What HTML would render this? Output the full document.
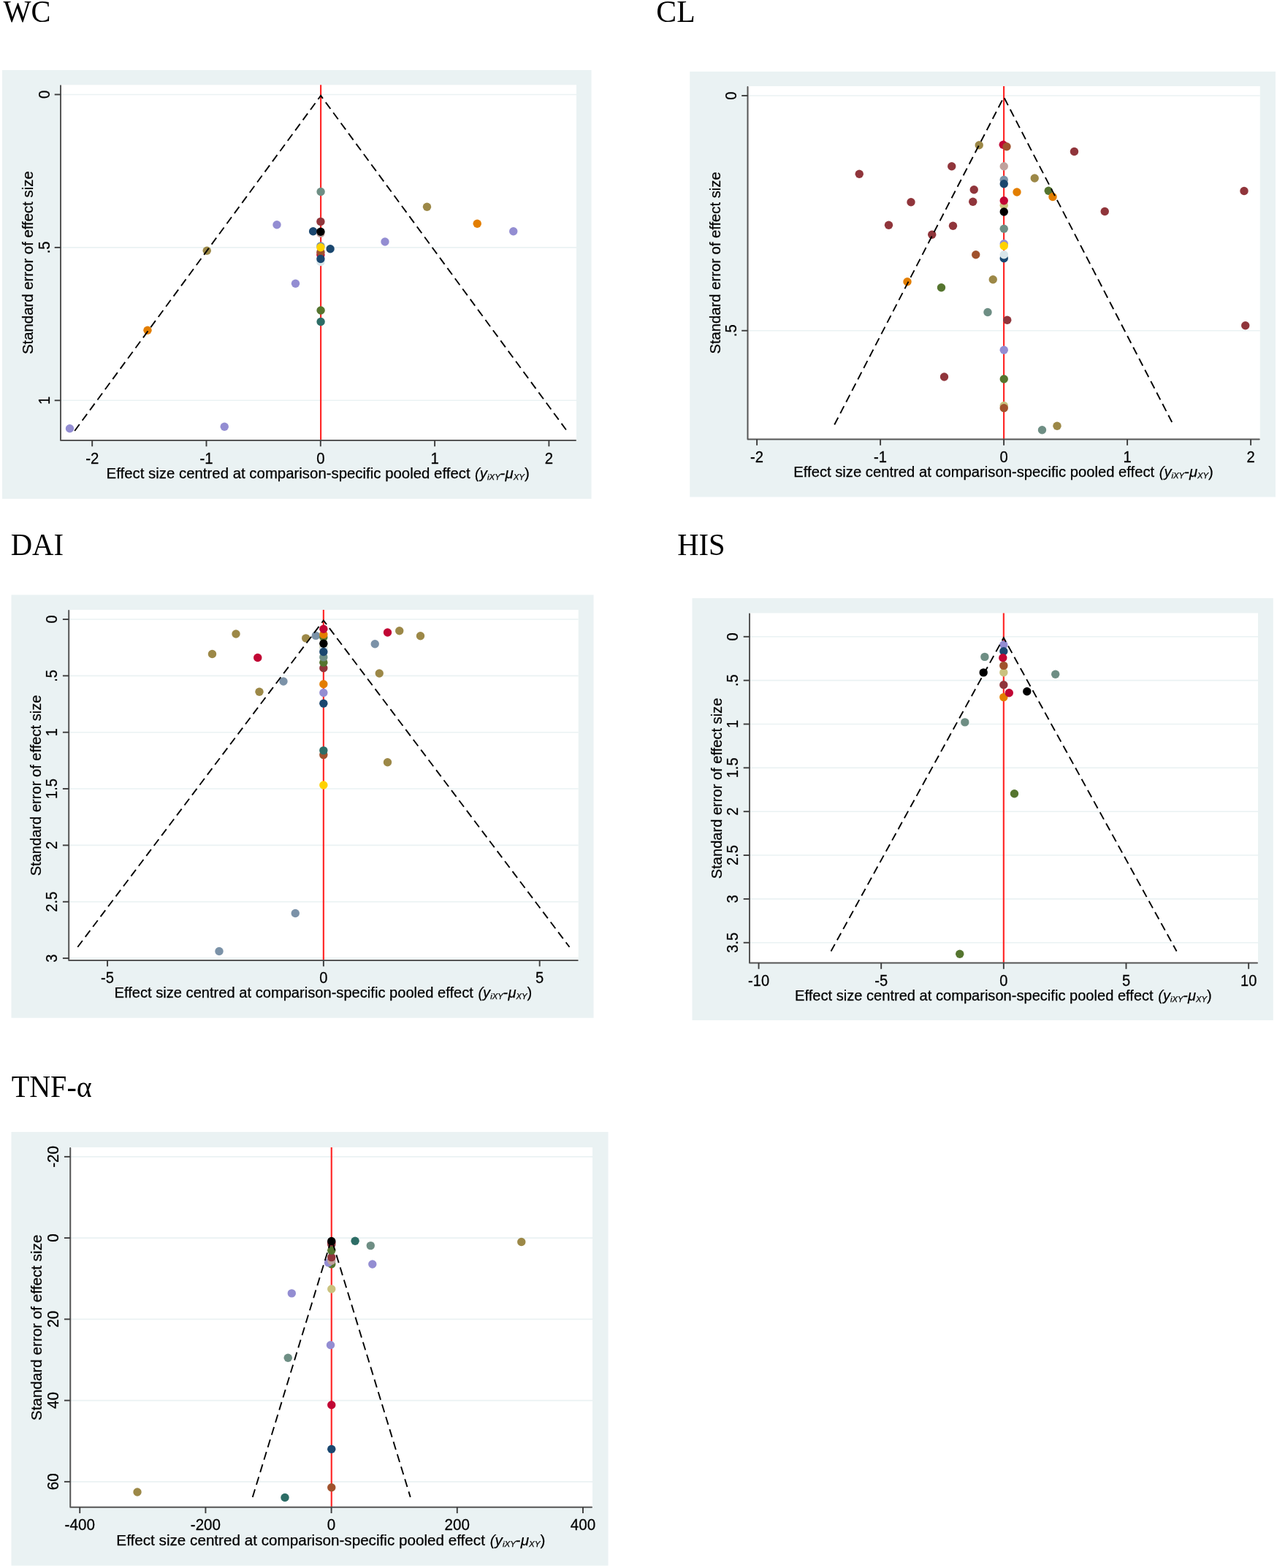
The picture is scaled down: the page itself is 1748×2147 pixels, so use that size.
<!DOCTYPE html>
<html><head><meta charset="utf-8"><title>Funnel plots</title>
<style>html,body{margin:0;padding:0;background:#fff;} svg{display:block;} .s{stroke:#000;stroke-width:0.25px;paint-order:stroke;}</style>
</head><body>
<svg width="1748" height="2147" viewBox="0 0 1748 2147">
<rect width="1748" height="2147" fill="#FFFFFF"/>
<rect x="3" y="96" width="806.50" height="587.00" fill="#EAF2F3"/>
<rect x="83" y="116.25" width="706.00" height="486.75" fill="#FFFFFF"/>
<line x1="84" y1="129.45" x2="789" y2="129.45" stroke="#EAF2F3" stroke-width="1.6"/>
<line x1="84" y1="338.88" x2="789" y2="338.88" stroke="#EAF2F3" stroke-width="1.6"/>
<line x1="84" y1="548.30" x2="789" y2="548.30" stroke="#EAF2F3" stroke-width="1.6"/>
<line x1="439.1" y1="116.25" x2="439.1" y2="603" stroke="#FF2A2A" stroke-width="2.2"/>
<circle cx="439.1" cy="262.5" r="5.7" fill="#6E8E84"/>
<circle cx="379" cy="307.75" r="5.7" fill="#938DD2"/>
<circle cx="438.9" cy="303.4" r="5.7" fill="#90353B"/>
<circle cx="428.6" cy="316.7" r="5.7" fill="#1A476F"/>
<circle cx="438.9" cy="319.4" r="5.7" fill="#BFA19C"/>
<circle cx="438.9" cy="317.2" r="5.7" fill="#000000"/>
<circle cx="283.25" cy="343.25" r="5.7" fill="#9C8847"/>
<circle cx="438.9" cy="358.5" r="5.7" fill="#D9E6EB"/>
<circle cx="438.9" cy="348.75" r="5.7" fill="#C10534"/>
<circle cx="438.9" cy="345.3" r="5.7" fill="#A0522D"/>
<circle cx="438.9" cy="354.5" r="5.7" fill="#1A476F"/>
<circle cx="438.9" cy="336.9" r="5.7" fill="#7B92A8"/>
<circle cx="438.9" cy="338.8" r="5.7" fill="#FFD200"/>
<circle cx="452.1" cy="340.7" r="5.7" fill="#1A476F"/>
<circle cx="584.5" cy="283.25" r="5.7" fill="#9C8847"/>
<circle cx="653.25" cy="306.25" r="5.7" fill="#E37E00"/>
<circle cx="702.75" cy="316.75" r="5.7" fill="#938DD2"/>
<circle cx="527" cy="331" r="5.7" fill="#938DD2"/>
<circle cx="404.5" cy="388.25" r="5.7" fill="#938DD2"/>
<circle cx="439.1" cy="425" r="5.7" fill="#55752F"/>
<circle cx="439.1" cy="440.5" r="5.7" fill="#2D6D66"/>
<circle cx="202" cy="452.25" r="5.7" fill="#E37E00"/>
<circle cx="95.5" cy="586.75" r="5.7" fill="#938DD2"/>
<circle cx="307.25" cy="584.25" r="5.7" fill="#938DD2"/>
<polyline points="102.2,590 439.1,130.95 774.9,588.5" fill="none" stroke="#000" stroke-width="1.9" stroke-dasharray="11.122 6.476" stroke-linejoin="miter" stroke-miterlimit="10"/>
<polyline points="83,117.25 83,603 788,603" fill="none" stroke="#555555" stroke-width="2" stroke-linejoin="round" stroke-linecap="round"/>
<line x1="74.70" y1="129.45" x2="83" y2="129.45" stroke="#3C3C3C" stroke-width="1.9"/>
<line x1="74.70" y1="338.88" x2="83" y2="338.88" stroke="#3C3C3C" stroke-width="1.9"/>
<line x1="74.70" y1="548.30" x2="83" y2="548.30" stroke="#3C3C3C" stroke-width="1.9"/>
<line x1="126.20" y1="603" x2="126.20" y2="611.30" stroke="#3C3C3C" stroke-width="1.9"/>
<line x1="282.50" y1="603" x2="282.50" y2="611.30" stroke="#3C3C3C" stroke-width="1.9"/>
<line x1="438.80" y1="603" x2="438.80" y2="611.30" stroke="#3C3C3C" stroke-width="1.9"/>
<line x1="595.10" y1="603" x2="595.10" y2="611.30" stroke="#3C3C3C" stroke-width="1.9"/>
<line x1="751.40" y1="603" x2="751.40" y2="611.30" stroke="#3C3C3C" stroke-width="1.9"/>
<text transform="translate(67.7,129.45) rotate(-90) scale(1,1.06)" text-anchor="middle" class="s" font-family="'Liberation Sans', Arial, sans-serif" font-size="20.38">0</text>
<text transform="translate(67.7,338.88) rotate(-90) scale(1,1.06)" text-anchor="middle" class="s" font-family="'Liberation Sans', Arial, sans-serif" font-size="20.38">.5</text>
<text transform="translate(67.7,548.30) rotate(-90) scale(1,1.06)" text-anchor="middle" class="s" font-family="'Liberation Sans', Arial, sans-serif" font-size="20.38">1</text>
<text transform="translate(126.20,634.9) scale(1,1.06)" text-anchor="middle" class="s" font-family="'Liberation Sans', Arial, sans-serif" font-size="20.38">-2</text>
<text transform="translate(282.50,634.9) scale(1,1.06)" text-anchor="middle" class="s" font-family="'Liberation Sans', Arial, sans-serif" font-size="20.38">-1</text>
<text transform="translate(438.80,634.9) scale(1,1.06)" text-anchor="middle" class="s" font-family="'Liberation Sans', Arial, sans-serif" font-size="20.38">0</text>
<text transform="translate(595.10,634.9) scale(1,1.06)" text-anchor="middle" class="s" font-family="'Liberation Sans', Arial, sans-serif" font-size="20.38">1</text>
<text transform="translate(751.40,634.9) scale(1,1.06)" text-anchor="middle" class="s" font-family="'Liberation Sans', Arial, sans-serif" font-size="20.38">2</text>
<text transform="translate(44.55,359.62) rotate(-90)" text-anchor="middle" class="s" font-family="'Liberation Sans', Arial, sans-serif" font-size="20.38" textLength="250.88" lengthAdjust="spacing">Standard error of effect size</text>
<text x="145.58" y="654.50" class="s" font-family="'Liberation Sans', Arial, sans-serif" font-size="20.38" textLength="498.02" lengthAdjust="spacing">Effect size centred at comparison-specific pooled effect</text>
<text x="650.09" y="654.50" class="s" font-family="'Liberation Sans', Arial, sans-serif" font-size="20.38"><tspan font-style="italic">(y</tspan><tspan font-style="italic" font-size="11.41" dy="2">iXY</tspan><tspan dy="-2">-</tspan><tspan font-style="italic">μ</tspan><tspan font-style="italic" font-size="11.41" dy="2">XY</tspan><tspan dy="-2">)</tspan></text>
<text transform="translate(4.46,30.2) scale(0.9877,1.045)" font-family="'Liberation Serif', 'Times New Roman', serif" font-size="40.8" stroke="#000" stroke-width="0">WC</text>
<rect x="944.25" y="98" width="801.75" height="582.50" fill="#EAF2F3"/>
<rect x="1023.5" y="118" width="701.25" height="483.50" fill="#FFFFFF"/>
<line x1="1024.5" y1="131.00" x2="1724.75" y2="131.00" stroke="#EAF2F3" stroke-width="1.6"/>
<line x1="1024.5" y1="452.75" x2="1724.75" y2="452.75" stroke="#EAF2F3" stroke-width="1.6"/>
<line x1="1374.1" y1="118" x2="1374.1" y2="601.5" stroke="#FF2A2A" stroke-width="2.2"/>
<circle cx="1340.25" cy="198.75" r="5.7" fill="#9C8847"/>
<circle cx="1373.25" cy="198.25" r="5.7" fill="#C10534"/>
<circle cx="1378" cy="200.75" r="5.7" fill="#A0522D"/>
<circle cx="1302.75" cy="227.75" r="5.7" fill="#90353B"/>
<circle cx="1374.25" cy="227.75" r="5.7" fill="#BFA19C"/>
<circle cx="1176.25" cy="238.25" r="5.7" fill="#90353B"/>
<circle cx="1416.25" cy="244" r="5.7" fill="#9C8847"/>
<circle cx="1374.25" cy="246.25" r="5.7" fill="#7B92A8"/>
<circle cx="1374.25" cy="251.75" r="5.7" fill="#1A476F"/>
<circle cx="1333.25" cy="259.75" r="5.7" fill="#90353B"/>
<circle cx="1392" cy="263" r="5.7" fill="#E37E00"/>
<circle cx="1435.25" cy="261.25" r="5.7" fill="#55752F"/>
<circle cx="1441" cy="269.5" r="5.7" fill="#E37E00"/>
<circle cx="1374.25" cy="281.25" r="5.7" fill="#CAC27E"/>
<circle cx="1374.25" cy="274.75" r="5.7" fill="#C10534"/>
<circle cx="1247" cy="276.75" r="5.7" fill="#90353B"/>
<circle cx="1331.75" cy="276.25" r="5.7" fill="#90353B"/>
<circle cx="1374.25" cy="290" r="5.7" fill="#000000"/>
<circle cx="1216.5" cy="308.25" r="5.7" fill="#90353B"/>
<circle cx="1304.5" cy="309.25" r="5.7" fill="#90353B"/>
<circle cx="1374.25" cy="313.25" r="5.7" fill="#6E8E84"/>
<circle cx="1275.75" cy="321.25" r="5.7" fill="#90353B"/>
<circle cx="1374.25" cy="333.75" r="5.7" fill="#938DD2"/>
<circle cx="1374.25" cy="336.75" r="5.7" fill="#FFD200"/>
<circle cx="1335.75" cy="348.75" r="5.7" fill="#A0522D"/>
<circle cx="1374.25" cy="353.75" r="5.7" fill="#1A476F"/>
<circle cx="1374.25" cy="348.75" r="5.7" fill="#D9E6EB"/>
<circle cx="1470.5" cy="207.5" r="5.7" fill="#90353B"/>
<circle cx="1703" cy="261.5" r="5.7" fill="#90353B"/>
<circle cx="1512.25" cy="289.5" r="5.7" fill="#90353B"/>
<circle cx="1242" cy="385.75" r="5.7" fill="#E37E00"/>
<circle cx="1288.5" cy="393.75" r="5.7" fill="#55752F"/>
<circle cx="1359.25" cy="382.75" r="5.7" fill="#9C8847"/>
<circle cx="1352" cy="427.5" r="5.7" fill="#6E8E84"/>
<circle cx="1378.75" cy="438.25" r="5.7" fill="#90353B"/>
<circle cx="1374.25" cy="479.25" r="5.7" fill="#938DD2"/>
<circle cx="1292.5" cy="516" r="5.7" fill="#90353B"/>
<circle cx="1374.25" cy="519" r="5.7" fill="#55752F"/>
<circle cx="1374.25" cy="555.5" r="5.7" fill="#CAC27E"/>
<circle cx="1374.25" cy="558.75" r="5.7" fill="#A0522D"/>
<circle cx="1426.5" cy="588.75" r="5.7" fill="#6E8E84"/>
<circle cx="1447" cy="583.25" r="5.7" fill="#9C8847"/>
<circle cx="1704.75" cy="445.75" r="5.7" fill="#90353B"/>
<polyline points="1142.2,581.5 1374.1,133.0 1604.2,578.0" fill="none" stroke="#000" stroke-width="1.9" stroke-dasharray="11.035 6.425" stroke-linejoin="miter" stroke-miterlimit="10"/>
<polyline points="1023.5,119 1023.5,601.5 1723.75,601.5" fill="none" stroke="#555555" stroke-width="2" stroke-linejoin="round" stroke-linecap="round"/>
<line x1="1015.20" y1="131.00" x2="1023.5" y2="131.00" stroke="#3C3C3C" stroke-width="1.9"/>
<line x1="1015.20" y1="452.75" x2="1023.5" y2="452.75" stroke="#3C3C3C" stroke-width="1.9"/>
<line x1="1036.10" y1="601.5" x2="1036.10" y2="609.80" stroke="#3C3C3C" stroke-width="1.9"/>
<line x1="1205.10" y1="601.5" x2="1205.10" y2="609.80" stroke="#3C3C3C" stroke-width="1.9"/>
<line x1="1374.10" y1="601.5" x2="1374.10" y2="609.80" stroke="#3C3C3C" stroke-width="1.9"/>
<line x1="1543.10" y1="601.5" x2="1543.10" y2="609.80" stroke="#3C3C3C" stroke-width="1.9"/>
<line x1="1712.10" y1="601.5" x2="1712.10" y2="609.80" stroke="#3C3C3C" stroke-width="1.9"/>
<text transform="translate(1008.2,131.00) rotate(-90) scale(1,1.06)" text-anchor="middle" class="s" font-family="'Liberation Sans', Arial, sans-serif" font-size="20.22">0</text>
<text transform="translate(1008.2,452.75) rotate(-90) scale(1,1.06)" text-anchor="middle" class="s" font-family="'Liberation Sans', Arial, sans-serif" font-size="20.22">.5</text>
<text transform="translate(1036.10,632.7) scale(1,1.06)" text-anchor="middle" class="s" font-family="'Liberation Sans', Arial, sans-serif" font-size="20.22">-2</text>
<text transform="translate(1205.10,632.7) scale(1,1.06)" text-anchor="middle" class="s" font-family="'Liberation Sans', Arial, sans-serif" font-size="20.22">-1</text>
<text transform="translate(1374.10,632.7) scale(1,1.06)" text-anchor="middle" class="s" font-family="'Liberation Sans', Arial, sans-serif" font-size="20.22">0</text>
<text transform="translate(1543.10,632.7) scale(1,1.06)" text-anchor="middle" class="s" font-family="'Liberation Sans', Arial, sans-serif" font-size="20.22">1</text>
<text transform="translate(1712.10,632.7) scale(1,1.06)" text-anchor="middle" class="s" font-family="'Liberation Sans', Arial, sans-serif" font-size="20.22">2</text>
<text transform="translate(985.50,359.95) rotate(-90)" text-anchor="middle" class="s" font-family="'Liberation Sans', Arial, sans-serif" font-size="20.22" textLength="249.22" lengthAdjust="spacing">Standard error of effect size</text>
<text x="1086.29" y="652.75" class="s" font-family="'Liberation Sans', Arial, sans-serif" font-size="20.22" textLength="493.91" lengthAdjust="spacing">Effect size centred at comparison-specific pooled effect</text>
<text x="1586.70" y="652.75" class="s" font-family="'Liberation Sans', Arial, sans-serif" font-size="20.22"><tspan font-style="italic">(y</tspan><tspan font-style="italic" font-size="11.32" dy="2">iXY</tspan><tspan dy="-2">-</tspan><tspan font-style="italic">μ</tspan><tspan font-style="italic" font-size="11.32" dy="2">XY</tspan><tspan dy="-2">)</tspan></text>
<text transform="translate(898.34,30.4) scale(1.0227,1.045)" font-family="'Liberation Serif', 'Times New Roman', serif" font-size="40.8" stroke="#000" stroke-width="0">CL</text>
<rect x="15.5" y="814.5" width="797.00" height="579.25" fill="#EAF2F3"/>
<rect x="94.2" y="835" width="697.55" height="480.00" fill="#FFFFFF"/>
<line x1="95.2" y1="848.00" x2="791.75" y2="848.00" stroke="#EAF2F3" stroke-width="1.6"/>
<line x1="95.2" y1="925.35" x2="791.75" y2="925.35" stroke="#EAF2F3" stroke-width="1.6"/>
<line x1="95.2" y1="1002.70" x2="791.75" y2="1002.70" stroke="#EAF2F3" stroke-width="1.6"/>
<line x1="95.2" y1="1080.05" x2="791.75" y2="1080.05" stroke="#EAF2F3" stroke-width="1.6"/>
<line x1="95.2" y1="1157.40" x2="791.75" y2="1157.40" stroke="#EAF2F3" stroke-width="1.6"/>
<line x1="95.2" y1="1234.75" x2="791.75" y2="1234.75" stroke="#EAF2F3" stroke-width="1.6"/>
<line x1="95.2" y1="1312.10" x2="791.75" y2="1312.10" stroke="#EAF2F3" stroke-width="1.6"/>
<line x1="442.86" y1="835" x2="442.86" y2="1315" stroke="#FF2A2A" stroke-width="2.2"/>
<circle cx="323" cy="868" r="5.7" fill="#9C8847"/>
<circle cx="290.5" cy="895.5" r="5.7" fill="#9C8847"/>
<circle cx="352.75" cy="900.5" r="5.7" fill="#C10534"/>
<circle cx="418.7" cy="873.9" r="5.7" fill="#9C8847"/>
<circle cx="432.3" cy="870.4" r="5.7" fill="#7B92A8"/>
<circle cx="388" cy="933" r="5.7" fill="#7B92A8"/>
<circle cx="355" cy="947.25" r="5.7" fill="#9C8847"/>
<circle cx="442.86" cy="914.7" r="5.7" fill="#90353B"/>
<circle cx="442.86" cy="907.3" r="5.7" fill="#55752F"/>
<circle cx="442.86" cy="899.9" r="5.7" fill="#6E8E84"/>
<circle cx="442.86" cy="886.5" r="5.7" fill="#CAC27E"/>
<circle cx="442.86" cy="888" r="5.7" fill="#D9E6EB"/>
<circle cx="442.86" cy="892.5" r="5.7" fill="#1A476F"/>
<circle cx="442.86" cy="872.5" r="5.7" fill="#55752F"/>
<circle cx="442.86" cy="868.7" r="5.7" fill="#E37E00"/>
<circle cx="442.86" cy="861.2" r="5.7" fill="#C10534"/>
<circle cx="442.86" cy="881.2" r="5.7" fill="#000000"/>
<circle cx="442.86" cy="936.75" r="5.7" fill="#E37E00"/>
<circle cx="442.86" cy="948.5" r="5.7" fill="#938DD2"/>
<circle cx="442.86" cy="963.25" r="5.7" fill="#1A476F"/>
<circle cx="442.86" cy="1033.6" r="5.7" fill="#A0522D"/>
<circle cx="442.86" cy="1027.6" r="5.7" fill="#2D6D66"/>
<circle cx="442.86" cy="1075" r="5.7" fill="#FFD200"/>
<circle cx="513.25" cy="881.75" r="5.7" fill="#7B92A8"/>
<circle cx="530.5" cy="866" r="5.7" fill="#C10534"/>
<circle cx="546.75" cy="863.75" r="5.7" fill="#9C8847"/>
<circle cx="575.5" cy="870.75" r="5.7" fill="#9C8847"/>
<circle cx="519.25" cy="922" r="5.7" fill="#9C8847"/>
<circle cx="530.5" cy="1043.75" r="5.7" fill="#9C8847"/>
<circle cx="300" cy="1302.5" r="5.7" fill="#7B92A8"/>
<circle cx="404.25" cy="1250.5" r="5.7" fill="#7B92A8"/>
<polyline points="106.3,1296.75 442.86,849.5 779.5,1296.75" fill="none" stroke="#000" stroke-width="1.9" stroke-dasharray="10.975 6.390" stroke-linejoin="miter" stroke-miterlimit="10"/>
<polyline points="94.2,836 94.2,1315 790.75,1315" fill="none" stroke="#555555" stroke-width="2" stroke-linejoin="round" stroke-linecap="round"/>
<line x1="85.90" y1="848.00" x2="94.2" y2="848.00" stroke="#3C3C3C" stroke-width="1.9"/>
<line x1="85.90" y1="925.35" x2="94.2" y2="925.35" stroke="#3C3C3C" stroke-width="1.9"/>
<line x1="85.90" y1="1002.70" x2="94.2" y2="1002.70" stroke="#3C3C3C" stroke-width="1.9"/>
<line x1="85.90" y1="1080.05" x2="94.2" y2="1080.05" stroke="#3C3C3C" stroke-width="1.9"/>
<line x1="85.90" y1="1157.40" x2="94.2" y2="1157.40" stroke="#3C3C3C" stroke-width="1.9"/>
<line x1="85.90" y1="1234.75" x2="94.2" y2="1234.75" stroke="#3C3C3C" stroke-width="1.9"/>
<line x1="85.90" y1="1312.10" x2="94.2" y2="1312.10" stroke="#3C3C3C" stroke-width="1.9"/>
<line x1="147.06" y1="1315" x2="147.06" y2="1323.30" stroke="#3C3C3C" stroke-width="1.9"/>
<line x1="442.86" y1="1315" x2="442.86" y2="1323.30" stroke="#3C3C3C" stroke-width="1.9"/>
<line x1="738.66" y1="1315" x2="738.66" y2="1323.30" stroke="#3C3C3C" stroke-width="1.9"/>
<text transform="translate(78.45,848.00) rotate(-90) scale(1,1.06)" text-anchor="middle" class="s" font-family="'Liberation Sans', Arial, sans-serif" font-size="20.11">0</text>
<text transform="translate(78.45,925.35) rotate(-90) scale(1,1.06)" text-anchor="middle" class="s" font-family="'Liberation Sans', Arial, sans-serif" font-size="20.11">.5</text>
<text transform="translate(78.45,1002.70) rotate(-90) scale(1,1.06)" text-anchor="middle" class="s" font-family="'Liberation Sans', Arial, sans-serif" font-size="20.11">1</text>
<text transform="translate(78.45,1080.05) rotate(-90) scale(1,1.06)" text-anchor="middle" class="s" font-family="'Liberation Sans', Arial, sans-serif" font-size="20.11">1.5</text>
<text transform="translate(78.45,1157.40) rotate(-90) scale(1,1.06)" text-anchor="middle" class="s" font-family="'Liberation Sans', Arial, sans-serif" font-size="20.11">2</text>
<text transform="translate(78.45,1234.75) rotate(-90) scale(1,1.06)" text-anchor="middle" class="s" font-family="'Liberation Sans', Arial, sans-serif" font-size="20.11">2.5</text>
<text transform="translate(78.45,1312.10) rotate(-90) scale(1,1.06)" text-anchor="middle" class="s" font-family="'Liberation Sans', Arial, sans-serif" font-size="20.11">3</text>
<text transform="translate(147.06,1345.8) scale(1,1.06)" text-anchor="middle" class="s" font-family="'Liberation Sans', Arial, sans-serif" font-size="20.11">-5</text>
<text transform="translate(442.86,1345.8) scale(1,1.06)" text-anchor="middle" class="s" font-family="'Liberation Sans', Arial, sans-serif" font-size="20.11">0</text>
<text transform="translate(738.66,1345.8) scale(1,1.06)" text-anchor="middle" class="s" font-family="'Liberation Sans', Arial, sans-serif" font-size="20.11">5</text>
<text transform="translate(56.20,1075.40) rotate(-90)" text-anchor="middle" class="s" font-family="'Liberation Sans', Arial, sans-serif" font-size="20.11" textLength="247.91" lengthAdjust="spacing">Standard error of effect size</text>
<text x="156.50" y="1365.80" class="s" font-family="'Liberation Sans', Arial, sans-serif" font-size="20.11" textLength="491.40" lengthAdjust="spacing">Effect size centred at comparison-specific pooled effect</text>
<text x="654.41" y="1365.80" class="s" font-family="'Liberation Sans', Arial, sans-serif" font-size="20.11"><tspan font-style="italic">(y</tspan><tspan font-style="italic" font-size="11.26" dy="2">iXY</tspan><tspan dy="-2">-</tspan><tspan font-style="italic">μ</tspan><tspan font-style="italic" font-size="11.26" dy="2">XY</tspan><tspan dy="-2">)</tspan></text>
<text transform="translate(14.63,760.3) scale(0.9985,1.045)" font-family="'Liberation Serif', 'Times New Roman', serif" font-size="40.8" stroke="#000" stroke-width="0">DAI</text>
<rect x="947.5" y="819.1" width="795.30" height="577.90" fill="#EAF2F3"/>
<rect x="1026" y="839.5" width="696.00" height="479.00" fill="#FFFFFF"/>
<line x1="1027" y1="871.80" x2="1722" y2="871.80" stroke="#EAF2F3" stroke-width="1.6"/>
<line x1="1027" y1="931.65" x2="1722" y2="931.65" stroke="#EAF2F3" stroke-width="1.6"/>
<line x1="1027" y1="991.50" x2="1722" y2="991.50" stroke="#EAF2F3" stroke-width="1.6"/>
<line x1="1027" y1="1051.35" x2="1722" y2="1051.35" stroke="#EAF2F3" stroke-width="1.6"/>
<line x1="1027" y1="1111.20" x2="1722" y2="1111.20" stroke="#EAF2F3" stroke-width="1.6"/>
<line x1="1027" y1="1171.05" x2="1722" y2="1171.05" stroke="#EAF2F3" stroke-width="1.6"/>
<line x1="1027" y1="1230.90" x2="1722" y2="1230.90" stroke="#EAF2F3" stroke-width="1.6"/>
<line x1="1027" y1="1290.75" x2="1722" y2="1290.75" stroke="#EAF2F3" stroke-width="1.6"/>
<line x1="1373.85" y1="839.5" x2="1373.85" y2="1318.5" stroke="#FF2A2A" stroke-width="2.2"/>
<circle cx="1373.85" cy="882.9" r="5.7" fill="#938DD2"/>
<circle cx="1373.85" cy="891.8" r="5.7" fill="#1A476F"/>
<circle cx="1372.8" cy="900.7" r="5.7" fill="#C10534"/>
<circle cx="1373.85" cy="920.8" r="5.7" fill="#CAC27E"/>
<circle cx="1373.85" cy="911.4" r="5.7" fill="#A0522D"/>
<circle cx="1373.85" cy="937.7" r="5.7" fill="#90353B"/>
<circle cx="1373.85" cy="954.6" r="5.7" fill="#E37E00"/>
<circle cx="1381.3" cy="948.8" r="5.7" fill="#C10534"/>
<circle cx="1347.9" cy="899.4" r="5.7" fill="#6E8E84"/>
<circle cx="1346.2" cy="920.9" r="5.7" fill="#000000"/>
<circle cx="1444.7" cy="923.2" r="5.7" fill="#6E8E84"/>
<circle cx="1405.8" cy="946.8" r="5.7" fill="#000000"/>
<circle cx="1320.8" cy="988.9" r="5.7" fill="#6E8E84"/>
<circle cx="1388.5" cy="1086.75" r="5.7" fill="#55752F"/>
<circle cx="1313.75" cy="1306.25" r="5.7" fill="#55752F"/>
<polyline points="1137.5,1302.5 1373.85,873.3 1610.6,1302.5" fill="none" stroke="#000" stroke-width="1.9" stroke-dasharray="10.958 6.381" stroke-linejoin="miter" stroke-miterlimit="10"/>
<polyline points="1026,840.5 1026,1318.5 1721,1318.5" fill="none" stroke="#555555" stroke-width="2" stroke-linejoin="round" stroke-linecap="round"/>
<line x1="1017.70" y1="871.80" x2="1026" y2="871.80" stroke="#3C3C3C" stroke-width="1.9"/>
<line x1="1017.70" y1="931.65" x2="1026" y2="931.65" stroke="#3C3C3C" stroke-width="1.9"/>
<line x1="1017.70" y1="991.50" x2="1026" y2="991.50" stroke="#3C3C3C" stroke-width="1.9"/>
<line x1="1017.70" y1="1051.35" x2="1026" y2="1051.35" stroke="#3C3C3C" stroke-width="1.9"/>
<line x1="1017.70" y1="1111.20" x2="1026" y2="1111.20" stroke="#3C3C3C" stroke-width="1.9"/>
<line x1="1017.70" y1="1171.05" x2="1026" y2="1171.05" stroke="#3C3C3C" stroke-width="1.9"/>
<line x1="1017.70" y1="1230.90" x2="1026" y2="1230.90" stroke="#3C3C3C" stroke-width="1.9"/>
<line x1="1017.70" y1="1290.75" x2="1026" y2="1290.75" stroke="#3C3C3C" stroke-width="1.9"/>
<line x1="1038.55" y1="1318.5" x2="1038.55" y2="1326.80" stroke="#3C3C3C" stroke-width="1.9"/>
<line x1="1206.20" y1="1318.5" x2="1206.20" y2="1326.80" stroke="#3C3C3C" stroke-width="1.9"/>
<line x1="1373.85" y1="1318.5" x2="1373.85" y2="1326.80" stroke="#3C3C3C" stroke-width="1.9"/>
<line x1="1541.50" y1="1318.5" x2="1541.50" y2="1326.80" stroke="#3C3C3C" stroke-width="1.9"/>
<line x1="1709.15" y1="1318.5" x2="1709.15" y2="1326.80" stroke="#3C3C3C" stroke-width="1.9"/>
<text transform="translate(1009.9,871.80) rotate(-90) scale(1,1.06)" text-anchor="middle" class="s" font-family="'Liberation Sans', Arial, sans-serif" font-size="20.08">0</text>
<text transform="translate(1009.9,931.65) rotate(-90) scale(1,1.06)" text-anchor="middle" class="s" font-family="'Liberation Sans', Arial, sans-serif" font-size="20.08">.5</text>
<text transform="translate(1009.9,991.50) rotate(-90) scale(1,1.06)" text-anchor="middle" class="s" font-family="'Liberation Sans', Arial, sans-serif" font-size="20.08">1</text>
<text transform="translate(1009.9,1051.35) rotate(-90) scale(1,1.06)" text-anchor="middle" class="s" font-family="'Liberation Sans', Arial, sans-serif" font-size="20.08">1.5</text>
<text transform="translate(1009.9,1111.20) rotate(-90) scale(1,1.06)" text-anchor="middle" class="s" font-family="'Liberation Sans', Arial, sans-serif" font-size="20.08">2</text>
<text transform="translate(1009.9,1171.05) rotate(-90) scale(1,1.06)" text-anchor="middle" class="s" font-family="'Liberation Sans', Arial, sans-serif" font-size="20.08">2.5</text>
<text transform="translate(1009.9,1230.90) rotate(-90) scale(1,1.06)" text-anchor="middle" class="s" font-family="'Liberation Sans', Arial, sans-serif" font-size="20.08">3</text>
<text transform="translate(1009.9,1290.75) rotate(-90) scale(1,1.06)" text-anchor="middle" class="s" font-family="'Liberation Sans', Arial, sans-serif" font-size="20.08">3.5</text>
<text transform="translate(1038.55,1349.6) scale(1,1.06)" text-anchor="middle" class="s" font-family="'Liberation Sans', Arial, sans-serif" font-size="20.08">-10</text>
<text transform="translate(1206.20,1349.6) scale(1,1.06)" text-anchor="middle" class="s" font-family="'Liberation Sans', Arial, sans-serif" font-size="20.08">-5</text>
<text transform="translate(1373.85,1349.6) scale(1,1.06)" text-anchor="middle" class="s" font-family="'Liberation Sans', Arial, sans-serif" font-size="20.08">0</text>
<text transform="translate(1541.50,1349.6) scale(1,1.06)" text-anchor="middle" class="s" font-family="'Liberation Sans', Arial, sans-serif" font-size="20.08">5</text>
<text transform="translate(1709.15,1349.6) scale(1,1.06)" text-anchor="middle" class="s" font-family="'Liberation Sans', Arial, sans-serif" font-size="20.08">10</text>
<text transform="translate(987.55,1079.43) rotate(-90)" text-anchor="middle" class="s" font-family="'Liberation Sans', Arial, sans-serif" font-size="20.08" textLength="247.55" lengthAdjust="spacing">Standard error of effect size</text>
<text x="1088.10" y="1369.60" class="s" font-family="'Liberation Sans', Arial, sans-serif" font-size="20.08" textLength="490.59" lengthAdjust="spacing">Effect size centred at comparison-specific pooled effect</text>
<text x="1585.21" y="1369.60" class="s" font-family="'Liberation Sans', Arial, sans-serif" font-size="20.08"><tspan font-style="italic">(y</tspan><tspan font-style="italic" font-size="11.24" dy="2">iXY</tspan><tspan dy="-2">-</tspan><tspan font-style="italic">μ</tspan><tspan font-style="italic" font-size="11.24" dy="2">XY</tspan><tspan dy="-2">)</tspan></text>
<text transform="translate(927.28,760.2) scale(0.9946,1.045)" font-family="'Liberation Serif', 'Times New Roman', serif" font-size="40.8" stroke="#000" stroke-width="0">HIS</text>
<rect x="15.5" y="1549.9" width="817.00" height="593.85" fill="#EAF2F3"/>
<rect x="96.25" y="1571" width="714.75" height="492.75" fill="#FFFFFF"/>
<line x1="97.25" y1="1583.85" x2="811" y2="1583.85" stroke="#EAF2F3" stroke-width="1.6"/>
<line x1="97.25" y1="1695.10" x2="811" y2="1695.10" stroke="#EAF2F3" stroke-width="1.6"/>
<line x1="97.25" y1="1806.35" x2="811" y2="1806.35" stroke="#EAF2F3" stroke-width="1.6"/>
<line x1="97.25" y1="1917.60" x2="811" y2="1917.60" stroke="#EAF2F3" stroke-width="1.6"/>
<line x1="97.25" y1="2028.85" x2="811" y2="2028.85" stroke="#EAF2F3" stroke-width="1.6"/>
<line x1="453.77" y1="1571" x2="453.77" y2="2063.75" stroke="#FF2A2A" stroke-width="2.2"/>
<circle cx="453.77" cy="1701.5" r="5.7" fill="#C10534"/>
<circle cx="453.77" cy="1704" r="5.7" fill="#90353B"/>
<circle cx="453.77" cy="1730.9" r="5.7" fill="#55752F"/>
<circle cx="449.5" cy="1728.9" r="5.7" fill="#938DD2"/>
<circle cx="453.77" cy="1726.3" r="5.7" fill="#BFA19C"/>
<circle cx="453.77" cy="1721.6" r="5.7" fill="#90353B"/>
<circle cx="453.77" cy="1712.3" r="5.7" fill="#55752F"/>
<circle cx="453.77" cy="1699.45" r="5.7" fill="#000000"/>
<circle cx="453.77" cy="1765" r="5.7" fill="#CAC27E"/>
<circle cx="486.1" cy="1699.3" r="5.7" fill="#2D6D66"/>
<circle cx="507.3" cy="1705.6" r="5.7" fill="#6E8E84"/>
<circle cx="509.8" cy="1731" r="5.7" fill="#938DD2"/>
<circle cx="399.3" cy="1770.9" r="5.7" fill="#938DD2"/>
<circle cx="713.75" cy="1700.5" r="5.7" fill="#9C8847"/>
<circle cx="452.5" cy="1841.75" r="5.7" fill="#938DD2"/>
<circle cx="394.25" cy="1859.25" r="5.7" fill="#6E8E84"/>
<circle cx="453.77" cy="1923.75" r="5.7" fill="#C10534"/>
<circle cx="453.77" cy="1984.25" r="5.7" fill="#1A476F"/>
<circle cx="453.77" cy="2036.75" r="5.7" fill="#A0522D"/>
<circle cx="188" cy="2043" r="5.7" fill="#9C8847"/>
<circle cx="390" cy="2050.5" r="5.7" fill="#2D6D66"/>
<polyline points="345.75,2050 453.77,1696.6 561.75,2050" fill="none" stroke="#000" stroke-width="1.9" stroke-dasharray="11.269 6.562" stroke-linejoin="miter" stroke-miterlimit="10"/>
<polyline points="96.25,1572 96.25,2063.75 810,2063.75" fill="none" stroke="#555555" stroke-width="2" stroke-linejoin="round" stroke-linecap="round"/>
<line x1="87.95" y1="1583.85" x2="96.25" y2="1583.85" stroke="#3C3C3C" stroke-width="1.9"/>
<line x1="87.95" y1="1695.10" x2="96.25" y2="1695.10" stroke="#3C3C3C" stroke-width="1.9"/>
<line x1="87.95" y1="1806.35" x2="96.25" y2="1806.35" stroke="#3C3C3C" stroke-width="1.9"/>
<line x1="87.95" y1="1917.60" x2="96.25" y2="1917.60" stroke="#3C3C3C" stroke-width="1.9"/>
<line x1="87.95" y1="2028.85" x2="96.25" y2="2028.85" stroke="#3C3C3C" stroke-width="1.9"/>
<line x1="109.24" y1="2063.75" x2="109.24" y2="2072.05" stroke="#3C3C3C" stroke-width="1.9"/>
<line x1="281.42" y1="2063.75" x2="281.42" y2="2072.05" stroke="#3C3C3C" stroke-width="1.9"/>
<line x1="453.60" y1="2063.75" x2="453.60" y2="2072.05" stroke="#3C3C3C" stroke-width="1.9"/>
<line x1="625.78" y1="2063.75" x2="625.78" y2="2072.05" stroke="#3C3C3C" stroke-width="1.9"/>
<line x1="797.96" y1="2063.75" x2="797.96" y2="2072.05" stroke="#3C3C3C" stroke-width="1.9"/>
<text transform="translate(79.7,1583.85) rotate(-90) scale(1,1.06)" text-anchor="middle" class="s" font-family="'Liberation Sans', Arial, sans-serif" font-size="20.65">-20</text>
<text transform="translate(79.7,1695.10) rotate(-90) scale(1,1.06)" text-anchor="middle" class="s" font-family="'Liberation Sans', Arial, sans-serif" font-size="20.65">0</text>
<text transform="translate(79.7,1806.35) rotate(-90) scale(1,1.06)" text-anchor="middle" class="s" font-family="'Liberation Sans', Arial, sans-serif" font-size="20.65">20</text>
<text transform="translate(79.7,1917.60) rotate(-90) scale(1,1.06)" text-anchor="middle" class="s" font-family="'Liberation Sans', Arial, sans-serif" font-size="20.65">40</text>
<text transform="translate(79.7,2028.85) rotate(-90) scale(1,1.06)" text-anchor="middle" class="s" font-family="'Liberation Sans', Arial, sans-serif" font-size="20.65">60</text>
<text transform="translate(109.24,2095.1) scale(1,1.06)" text-anchor="middle" class="s" font-family="'Liberation Sans', Arial, sans-serif" font-size="20.65">-400</text>
<text transform="translate(281.42,2095.1) scale(1,1.06)" text-anchor="middle" class="s" font-family="'Liberation Sans', Arial, sans-serif" font-size="20.65">-200</text>
<text transform="translate(453.60,2095.1) scale(1,1.06)" text-anchor="middle" class="s" font-family="'Liberation Sans', Arial, sans-serif" font-size="20.65">0</text>
<text transform="translate(625.78,2095.1) scale(1,1.06)" text-anchor="middle" class="s" font-family="'Liberation Sans', Arial, sans-serif" font-size="20.65">200</text>
<text transform="translate(797.96,2095.1) scale(1,1.06)" text-anchor="middle" class="s" font-family="'Liberation Sans', Arial, sans-serif" font-size="20.65">400</text>
<text transform="translate(56.85,1817.75) rotate(-90)" text-anchor="middle" class="s" font-family="'Liberation Sans', Arial, sans-serif" font-size="20.65" textLength="254.46" lengthAdjust="spacing">Standard error of effect size</text>
<text x="159.36" y="2115.60" class="s" font-family="'Liberation Sans', Arial, sans-serif" font-size="20.65" textLength="504.55" lengthAdjust="spacing">Effect size centred at comparison-specific pooled effect</text>
<text x="670.68" y="2115.60" class="s" font-family="'Liberation Sans', Arial, sans-serif" font-size="20.65"><tspan font-style="italic">(y</tspan><tspan font-style="italic" font-size="11.56" dy="2">iXY</tspan><tspan dy="-2">-</tspan><tspan font-style="italic">μ</tspan><tspan font-style="italic" font-size="11.56" dy="2">XY</tspan><tspan dy="-2">)</tspan></text>
<text transform="translate(15.73,1502.4) scale(0.9820,1.045)" font-family="'Liberation Serif', 'Times New Roman', serif" font-size="40.8" stroke="#000" stroke-width="0">TNF-α</text>
</svg>
</body></html>
